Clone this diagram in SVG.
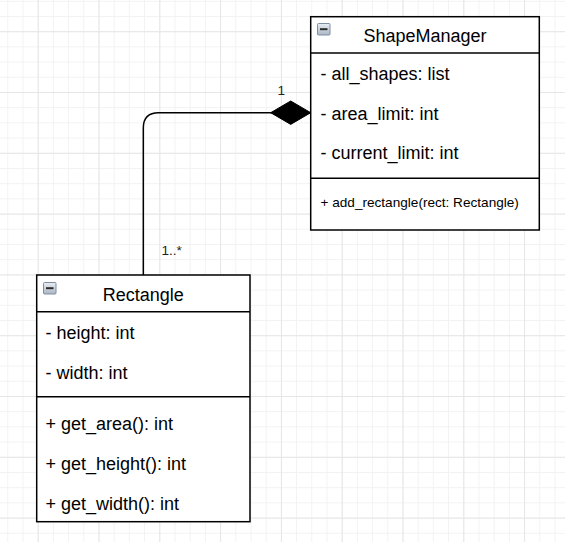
<svg xmlns="http://www.w3.org/2000/svg" width="565" height="542" viewBox="0 0 565 542">
  <defs>
    <style>
      .box { fill: #ffffff; stroke: #000000; stroke-width: 1.5; }
      .sep { stroke: #000000; stroke-width: 1.5; fill: none; }
      .title { font-family: "Liberation Sans", Arial, sans-serif; font-size: 18px; fill: #000000; text-anchor: middle; }
      .member { font-family: "Liberation Sans", Arial, sans-serif; font-size: 18px; fill: #000000; }
      .small { font-family: "Liberation Sans", Arial, sans-serif; font-size: 13.6px; fill: #000000; }
      .mult { font-family: "Liberation Sans", Arial, sans-serif; font-size: 13.6px; fill: #222222; }
      .edge { fill: none; stroke: #000000; stroke-width: 1.5; }
      .icon { fill: url(#iconFill); stroke: #7f8fa3; stroke-width: 1; }
      .icon-dash { stroke: #2b2b2b; stroke-width: 2; }
    </style>
    <linearGradient id="iconFill" x1="0" y1="0" x2="0" y2="1">
      <stop offset="0" stop-color="#e9eef4"/>
      <stop offset="1" stop-color="#aab6c4"/>
    </linearGradient>
    <pattern id="minorGrid" patternUnits="userSpaceOnUse" x="7.3" y="0.8" width="15.2" height="15.2">
      <path d="M0 0.5H15.2M0.5 0V15.2" stroke="#f2f2f2" stroke-width="1" fill="none"/>
    </pattern>
    <pattern id="majorGrid" patternUnits="userSpaceOnUse" x="37.7" y="31.2" width="60.8" height="60.8">
      <path d="M0 0.5H60.8M0.5 0V60.8" stroke="#e6e6e6" stroke-width="1" fill="none"/>
    </pattern>
    <!-- filled diamond for composition ends -->
    <marker id="diamond" markerUnits="userSpaceOnUse" markerWidth="42" markerHeight="26" refX="40" refY="11.7" orient="auto" overflow="visible">
      <path d="M0 11.7L20 0L40 11.7L20 23.4Z" fill="#000000" stroke="#000000" stroke-width="1"/>
    </marker>
    <g id="collapse">
      <rect class="icon" x="0.5" y="0.5" width="12.5" height="11.5" rx="1"/>
      <line class="icon-dash" x1="3" y1="6.2" x2="10.5" y2="6.2"/>
    </g>
  </defs>

  <!-- background grid -->
  <rect width="565" height="542" fill="#ffffff"/>
  <rect width="565" height="542" fill="url(#minorGrid)"/>
  <rect width="565" height="542" fill="url(#majorGrid)"/>

  <!-- connectors -->
  <g id="connectors">
    <path class="edge" d="M143.3 275V128Q143.3 112.7 158.6 112.7H310.7" marker-end="url(#diamond)"/>
    <text class="mult" x="277.5" y="94.5">1</text>
    <text class="mult" x="161.5" y="255">1..*</text>
  </g>

  <!-- ShapeManager class -->
  <g id="ShapeManager">
    <rect class="box" x="310.7" y="16.7" width="228.6" height="213.3"/>
    <line class="sep" x1="310.7" y1="53" x2="539.3" y2="53"/>
    <line class="sep" x1="310.7" y1="178.3" x2="539.3" y2="178.3"/>
    <use href="#collapse" x="317" y="23"/>
    <text class="title" x="425" y="42">ShapeManager</text>
    <text class="member" x="320.5" y="80">- all_shapes: list</text>
    <text class="member" x="320.5" y="120">- area_limit: int</text>
    <text class="member" x="320.5" y="159">- current_limit: int</text>
    <text class="small" x="320.5" y="207">+ add_rectangle(rect: Rectangle)</text>
  </g>

  <!-- Rectangle class -->
  <g id="Rectangle">
    <rect class="box" x="36.7" y="275" width="213.3" height="246.7"/>
    <line class="sep" x1="36.7" y1="311.7" x2="250" y2="311.7"/>
    <line class="sep" x1="36.7" y1="396.7" x2="250" y2="396.7"/>
    <use href="#collapse" x="43" y="282"/>
    <text class="title" x="143.3" y="301">Rectangle</text>
    <text class="member" x="45.5" y="338.5">- height: int</text>
    <text class="member" x="45.5" y="378.5">- width: int</text>
    <text class="member" x="45.5" y="430">+ get_area(): int</text>
    <text class="member" x="45.5" y="470">+ get_height(): int</text>
    <text class="member" x="45.5" y="510">+ get_width(): int</text>
  </g>
</svg>
